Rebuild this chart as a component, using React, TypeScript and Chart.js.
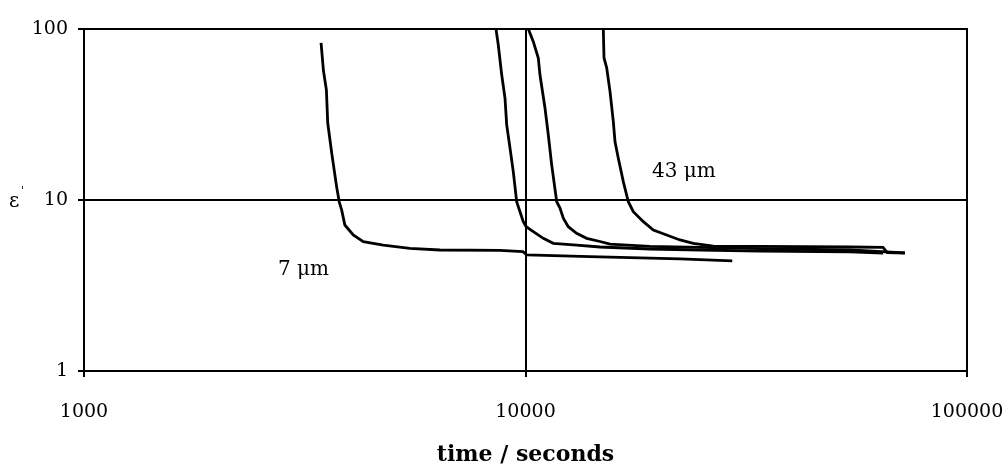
import React, { useEffect, useRef } from "react";
import { Chart, registerables } from "chart.js";

Chart.register(...registerables);

// 7 µm sample
const time7 = [3443, 3485, 3540, 3565, 3640, 3735, 3786, 3833, 3898, 4072, 4291, 4762, 5470, 6397, 8750, 9865, 10070, 13990, 22390, 29400];
const eps7 = [83, 57.5, 44, 28.2, 18.8, 11.9, 9.73, 8.75, 7.14, 6.24, 5.70, 5.45, 5.22, 5.10, 5.07, 4.99, 4.77, 4.66, 4.52, 4.40];

// intermediate sample A
const timeA = [8574, 8677, 8834, 8987, 9066, 9224, 9384, 9550, 9716, 9885, 10037, 10416, 10972, 11560, 12834, 14749, 19144, 24850, 33980, 54330, 64530];
const epsA = [100, 80.6, 53.8, 39.3, 27.5, 20.1, 14.6, 9.77, 8.54, 7.47, 6.98, 6.53, 5.97, 5.58, 5.46, 5.31, 5.17, 5.10, 5.03, 4.97, 4.90];

// intermediate sample B
const timeB = [10150, 10416, 10690, 10785, 11070, 11263, 11465, 11768, 11970, 12180, 12500, 13053, 13757, 14749, 15540, 19144, 24850, 33980, 54330, 72350];
const epsB = [100, 84.3, 67.7, 53.8, 34.5, 24.0, 16.0, 9.77, 8.98, 7.82, 6.98, 6.39, 5.97, 5.72, 5.52, 5.35, 5.28, 5.20, 5.10, 4.90];

// 43 µm sample
const time43 = [15005, 15060, 15275, 15540, 15810, 15950, 16230, 16655, 17095, 17545, 18490, 19475, 20875, 22385, 23990, 26640, 33980, 54330, 64530, 66000, 72350];
const eps43 = [100, 67.7, 59.2, 43.0, 28.7, 21.9, 17.5, 12.8, 9.77, 8.54, 7.47, 6.68, 6.24, 5.84, 5.58, 5.38, 5.35, 5.31, 5.28, 4.92, 4.90];

const xTicks = [1000, 10000, 100000];
const yTicks = [1, 10, 100];

const labels = [
  { text: "7 \u03bcm", x: 2750, y: 3.9 },
  { text: "43 \u03bcm", x: 19345, y: 14.6 },
];

const FONT = "'DejaVu Serif', 'Liberation Serif', serif";

function pts(xs: number[], ys: number[]) {
  return xs.map((x, i) => ({ x, y: ys[i] }));
}

const framePlugin = {
  id: "frame",
  afterDraw(chart: any) {
    const { ctx, chartArea: a, scales } = chart;
    ctx.save();
    ctx.strokeStyle = "#000";
    ctx.lineWidth = 2;
    ctx.strokeRect(a.left, a.top, a.right - a.left, a.bottom - a.top);
    ctx.fillStyle = "#000";
    ctx.font = `20px ${FONT}`;
    ctx.textBaseline = "middle";
    ctx.textAlign = "left";
    for (const l of labels) {
      ctx.fillText(l.text, scales.x.getPixelForValue(l.x), scales.y.getPixelForValue(l.y));
    }
    // y axis symbol
    const yc = scales.y.getPixelForValue(10);
    ctx.font = `20px ${FONT}`;
    ctx.fillText("\u03b5", 9, yc + 2);
    ctx.font = `11px ${FONT}`;
    ctx.fillText("'", 21, yc - 9);
    ctx.restore();
  },
};

export default function App() {
  const ref = useRef<HTMLCanvasElement>(null);
  useEffect(() => {
    if (!ref.current) return;
    const ds = (xs: number[], ys: number[]) => ({
      data: pts(xs, ys),
      borderColor: "#000",
      borderWidth: 2.8,
      pointRadius: 0,
      tension: 0,
      fill: false,
    });
    const chart = new Chart(ref.current, {
      type: "line",
      data: {
        datasets: [ds(time7, eps7), ds(timeA, epsA), ds(timeB, epsB), ds(time43, eps43)],
      },
      options: {
        animation: false,
        responsive: false,
        layout: { padding: { left: 0, top: 29, right: 41, bottom: 0 } },
        plugins: { legend: { display: false }, tooltip: { enabled: false } },
        scales: {
          x: {
            type: "logarithmic",
            min: 1000,
            max: 100000,
            afterBuildTicks: (s: any) => {
              s.ticks = xTicks.map((v) => ({ value: v }));
            },
            afterFit: (s: any) => {
              s.height = 93;
              s.paddingRight = 0;
              s.paddingLeft = 0;
            },
            grid: { color: "#000", lineWidth: 2, tickLength: 6, drawTicks: true },
            border: { display: true, color: "#000", width: 2 },
            ticks: {
              color: "#000",
              font: { family: FONT, size: 19 },
              padding: 24,
              maxRotation: 0,
              autoSkip: false,
              callback: (v: any) => String(v),
            },
            title: {
              display: true,
              text: "time / seconds",
              color: "#000",
              font: { family: FONT, size: 22, weight: "bold", lineHeight: 0.8 },
              padding: { top: 0, bottom: 0 },
            },
          },
          y: {
            type: "logarithmic",
            min: 1,
            max: 100,
            afterBuildTicks: (s: any) => {
              s.ticks = yTicks.map((v) => ({ value: v }));
            },
            afterFit: (s: any) => {
              s.width = 84;
            },
            grid: { color: "#000", lineWidth: 2, tickLength: 6, drawTicks: true },
            border: { display: true, color: "#000", width: 2 },
            ticks: {
              color: "#000",
              font: { family: FONT, size: 19 },
              padding: 10,
              autoSkip: false,
              callback: (v: any) => String(v),
            },
          },
        },
      },
      plugins: [framePlugin],
    });
    return () => chart.destroy();
  }, []);
  return (
    <div style={{ position: "fixed", left: 0, top: 0, width: 1008, height: 464, background: "#fff" }}>
      <canvas ref={ref} width={1008} height={464} />
    </div>
  );
}
